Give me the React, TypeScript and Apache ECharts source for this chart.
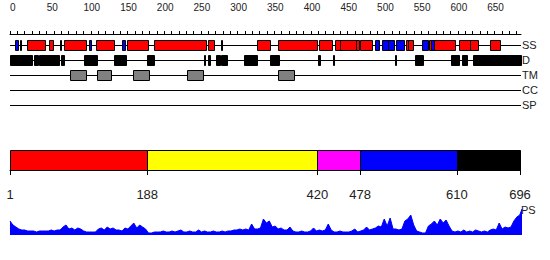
import React, { useEffect, useRef } from 'react';
import * as echarts from 'echarts';

const seqLength = 696;
const rulerTickValues = [0, 10, 20, 30, 40, 50, 60, 70, 80, 90, 100, 110, 120, 130, 140, 150, 160, 170, 180, 190, 200, 210, 220, 230, 240, 250, 260, 270, 280, 290, 300, 310, 320, 330, 340, 350, 360, 370, 380, 390, 400, 410, 420, 430, 440, 450, 460, 470, 480, 490, 500, 510, 520, 530, 540, 550, 560, 570, 580, 590, 600, 610, 620, 630, 640, 650, 660, 670, 680, 690];
const rulerLabelValues = [0, 50, 100, 150, 200, 250, 300, 350, 400, 450, 500, 550, 600, 650];

const tracks = ['SS', 'D', 'TM', 'CC', 'SP'];

// SS track: helices (red) and strands (blue), [start, end]
const helix = [[14, 15], [23, 47], [53, 59], [68, 69], [74, 104], [117, 142], [159, 188], [196, 267], [270, 278], [287, 288], [337, 354], [365, 418], [421, 439], [443, 450], [450, 471], [471, 475], [477, 493], [539, 542], [542, 549], [571, 574], [578, 606], [612, 626], [626, 638], [654, 668]];
const strand = [[7, 11], [108, 111], [153, 157], [497, 502], [507, 515], [515, 523], [526, 536], [561, 569], [574, 577]];
// D track: disordered regions
const disorder = [[0, 30], [33, 38], [40, 67], [70, 74], [101, 118], [141, 158], [187, 196], [264, 266], [270, 272], [281, 286], [288, 296], [319, 336], [354, 367], [420, 422], [440, 441], [524, 526], [552, 562], [600, 612], [616, 622], [631, 696]];
// TM track
const transmembrane = [[82, 103], [118, 137], [168, 190], [241, 263], [365, 387]];
const coiledCoil: number[][] = [];
const signalPeptide: number[][] = [];

// Domain boundaries
const domainBounds = [1, 188, 420, 478, 610, 696];
const domainColors = ['#ff0000', '#ffff00', '#ff00ff', '#0000ff', '#000000'];

// PS profile [residue, value]
const profile = [
  [1, 14], [5, 10], [9, 8], [13, 6], [17, 5], [21, 5], [25, 4], [29, 4], [33, 4], [37, 3],
  [41, 4], [45, 4], [49, 4], [53, 4], [57, 5], [61, 4], [65, 5], [69, 5], [73, 8], [77, 10],
  [81, 6], [85, 7], [89, 5], [93, 7], [97, 6], [101, 4], [105, 3], [109, 3], [113, 3], [117, 3],
  [121, 6], [125, 7], [129, 5], [133, 8], [137, 6], [141, 7], [145, 5], [149, 5], [153, 4], [157, 7],
  [161, 6], [165, 9], [169, 12], [173, 7], [177, 10], [181, 8], [185, 6], [189, 2], [193, 2], [197, 3],
  [201, 3], [205, 3], [209, 4], [213, 3], [217, 3], [221, 4], [225, 3], [229, 4], [233, 5], [237, 3],
  [241, 3], [245, 4], [249, 3], [253, 3], [257, 5], [261, 3], [265, 4], [269, 3], [273, 3], [277, 4],
  [281, 3], [285, 3], [289, 4], [293, 3], [297, 4], [301, 4], [305, 5], [309, 5], [313, 6], [317, 5],
  [321, 6], [325, 5], [329, 11], [333, 6], [337, 6], [341, 7], [345, 16], [349, 12], [353, 14], [357, 8],
  [361, 9], [365, 6], [369, 7], [373, 5], [377, 5], [381, 8], [385, 4], [389, 3], [393, 3], [397, 4],
  [401, 3], [405, 3], [409, 4], [413, 7], [417, 4], [421, 5], [425, 4], [429, 5], [433, 11], [437, 5],
  [441, 3], [445, 3], [449, 4], [453, 3], [457, 3], [461, 3], [465, 4], [469, 6], [473, 3], [477, 4],
  [481, 5], [485, 8], [489, 5], [493, 6], [497, 7], [501, 9], [505, 8], [509, 16], [513, 9], [517, 17],
  [521, 6], [525, 6], [529, 5], [533, 6], [537, 14], [541, 16], [545, 20], [549, 10], [553, 4], [557, 3],
  [561, 2], [565, 2], [569, 9], [573, 11], [577, 14], [581, 10], [585, 16], [589, 12], [593, 15], [597, 9],
  [601, 4], [605, 3], [609, 4], [613, 3], [617, 5], [621, 3], [625, 4], [629, 3], [633, 5], [637, 4],
  [641, 3], [645, 4], [649, 3], [653, 5], [657, 6], [661, 5], [665, 12], [669, 6], [673, 8], [677, 7],
  [681, 8], [685, 14], [689, 18], [693, 20], [696, 26],
];

const FONT = 'Liberation Sans, Arial, sans-serif';
const crisp = (v: number) => Math.round(v) + 0.5;

const renderTrackBox = (params: any, api: any) => {
  const p0 = api.coord([api.value(0), api.value(2)]);
  const p1 = api.coord([api.value(1), api.value(2)]);
  const x0 = crisp(p0[0]);
  const x1 = Math.max(crisp(p1[0]), x0 + 1);
  const y0 = crisp(p0[1] - 5);
  return {
    type: 'rect',
    shape: { x: x0, y: y0, width: x1 - x0, height: 10 },
    style: { fill: api.visual('color'), stroke: '#000', lineWidth: 1 },
  };
};

const renderDomain = (params: any, api: any) => {
  const p0 = api.coord([api.value(0), 1]);
  const p1 = api.coord([api.value(1), 0]);
  const x0 = crisp(p0[0]);
  const x1 = crisp(p1[0]);
  const y0 = crisp(p0[1]);
  const y1 = crisp(p1[1]);
  return {
    type: 'rect',
    shape: { x: x0, y: y0, width: x1 - x0, height: y1 - y0 },
    style: { fill: api.visual('color'), stroke: '#000', lineWidth: 1 },
  };
};

const trackSeries = (items: number[][], track: string, color: string) => ({
  type: 'custom',
  xAxisIndex: 1,
  yAxisIndex: 1,
  renderItem: renderTrackBox,
  itemStyle: { color },
  encode: { x: [0, 1], y: 2 },
  data: items.map(([s, e]) => [s, e, tracks.indexOf(track)]),
  silent: true,
});

export default function App() {
  const ref = useRef<HTMLDivElement>(null);
  useEffect(() => {
    document.body.style.margin = '0';
    const chart = echarts.init(ref.current!, undefined, { renderer: 'svg' });
    const option: any = {
      animation: false,
      textStyle: { fontFamily: FONT },
      grid: [
        { left: 10, top: 14, width: 511, height: 20 },
        { left: 10, top: 45, width: 511, height: 60 },
        { left: 10, top: 150, width: 510, height: 20 },
        { left: 10, top: 205, width: 512, height: 30 },
      ],
      xAxis: [
        {
          gridIndex: 0, type: 'value', min: 0, max: seqLength, position: 'top',
          axisLine: { lineStyle: { color: '#000', width: 1 } },
          axisTick: { customValues: rulerTickValues, length: 3, lineStyle: { color: '#000' } },
          axisLabel: { customValues: rulerLabelValues, align: 'left', margin: 2, fontSize: 10, color: '#222', fontFamily: FONT },
          splitLine: { show: false },
        },
        { gridIndex: 1, type: 'value', min: 0, max: seqLength, show: false },
        {
          gridIndex: 2, type: 'value', min: 1, max: seqLength, position: 'bottom', offset: 10,
          axisLine: { lineStyle: { color: '#000', width: 1 } },
          axisTick: { customValues: domainBounds, length: 5, lineStyle: { color: '#000' } },
          axisLabel: { customValues: domainBounds, margin: 8, fontSize: 13, color: '#222', fontFamily: FONT },
          splitLine: { show: false },
        },
        { gridIndex: 3, type: 'value', min: 1, max: seqLength, show: false },
      ],
      yAxis: [
        { gridIndex: 0, type: 'value', show: false },
        {
          gridIndex: 1, type: 'category', data: tracks, boundaryGap: false, inverse: true, position: 'right',
          axisLine: { show: false }, axisTick: { show: false },
          axisLabel: { margin: 1, fontSize: 11, color: '#222', fontFamily: FONT },
          splitLine: { show: true, lineStyle: { color: '#000', width: 1 } },
        },
        { gridIndex: 2, type: 'value', min: 0, max: 1, show: false },
        { gridIndex: 3, type: 'value', min: 0, max: 30, show: false },
      ],
      graphic: [
        { type: 'text', left: 521, top: 204, style: { text: 'PS', fontSize: 11, fill: '#222', fontFamily: FONT } },
      ],
      series: [
        trackSeries(disorder, 'D', '#000000'),
        trackSeries(transmembrane, 'TM', '#808080'),
        trackSeries(coiledCoil, 'CC', '#00aa00'),
        trackSeries(signalPeptide, 'SP', '#ffa500'),
        trackSeries(helix, 'SS', '#ff0000'),
        trackSeries(strand, 'SS', '#0000ff'),
        {
          type: 'custom', xAxisIndex: 2, yAxisIndex: 2, renderItem: renderDomain,
          encode: { x: [0, 1] },
          data: domainColors.map((c, i) => ({ value: [domainBounds[i], domainBounds[i + 1]], itemStyle: { color: c } })),
          silent: true,
        },
        {
          type: 'line', xAxisIndex: 3, yAxisIndex: 3, data: profile,
          symbol: 'none', showSymbol: false,
          lineStyle: { color: '#0000ff', width: 1 },
          itemStyle: { color: '#0000ff' },
          areaStyle: { color: '#0000ff', opacity: 1 },
          silent: true,
        },
      ],
    };
    chart.setOption(option);
    return () => chart.dispose();
  }, []);
  return <div ref={ref} style={{ width: 550, height: 260 }} />;
}
